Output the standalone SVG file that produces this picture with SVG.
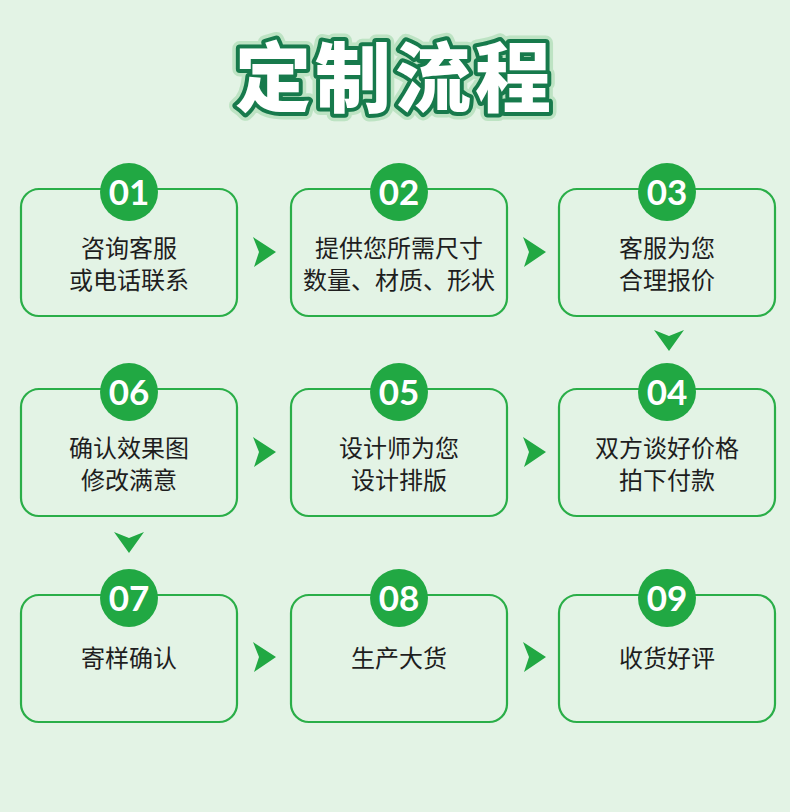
<svg xmlns="http://www.w3.org/2000/svg" width="790" height="812" viewBox="0 0 790 812">
<style>
.box{fill:none;stroke:#2aae48;stroke-width:2.2}
.circ{fill:#21a843}
.num{font-family:Lato,"Open Sans",sans-serif;font-weight:700;font-size:35px;fill:#fff;text-anchor:middle}
.lbl{font-family:"Noto Sans CJK SC","Noto Sans",sans-serif;font-size:24px;fill:#1e1e1e;text-anchor:middle}
.arr{fill:#21a843}
.title{font-family:"Noto Sans CJK SC",sans-serif;font-weight:900;font-size:76px;text-anchor:middle;letter-spacing:4px}
</style>
<defs>
<polygon id="ar" points="-11,-15 12,0 -10,15 -5,0"/>
<polygon id="ad" points="-15,-11 0,10 15,-11 0,-5"/>
</defs>
<rect width="790" height="812" fill="#e3f3e5"/>
<g id="title">
<text class="title" x="395" y="106" fill="none" stroke="#bde3c3" stroke-width="15" stroke-linejoin="round">定制流程</text>
<text class="title" x="395" y="106" fill="#fff" stroke="#177a4c" stroke-width="8" stroke-linejoin="round" paint-order="stroke">定制流程</text>
</g>
<g id="connectors">
<use href="#ar" x="264" y="252" class="arr"/>
<use href="#ar" x="534" y="252" class="arr"/>
<use href="#ad" x="669" y="341" class="arr"/>
<use href="#ar" x="264" y="452" class="arr"/>
<use href="#ar" x="534" y="452" class="arr"/>
<use href="#ad" x="129" y="543" class="arr"/>
<use href="#ar" x="264" y="657" class="arr"/>
<use href="#ar" x="534" y="657" class="arr"/>
</g>
<g id="n01"><rect class="box" x="21" y="189" width="216" height="127" rx="18"/><circle class="circ" cx="129" cy="192" r="29"/><text class="num" x="129" y="205">01</text><text class="lbl" x="129" y="257">咨询客服</text><text class="lbl" x="129" y="289">或电话联系</text></g>
<g id="n02"><rect class="box" x="291" y="189" width="216" height="127" rx="18"/><circle class="circ" cx="399" cy="192" r="29"/><text class="num" x="399" y="205">02</text><text class="lbl" x="399" y="257">提供您所需尺寸</text><text class="lbl" x="399" y="289">数量、材质、形状</text></g>
<g id="n03"><rect class="box" x="559" y="189" width="216" height="127" rx="18"/><circle class="circ" cx="667" cy="192" r="29"/><text class="num" x="667" y="205">03</text><text class="lbl" x="667" y="257">客服为您</text><text class="lbl" x="667" y="289">合理报价</text></g>
<g id="n06"><rect class="box" x="21" y="389" width="216" height="127" rx="18"/><circle class="circ" cx="129" cy="392" r="29"/><text class="num" x="129" y="405">06</text><text class="lbl" x="129" y="457">确认效果图</text><text class="lbl" x="129" y="489">修改满意</text></g>
<g id="n05"><rect class="box" x="291" y="389" width="216" height="127" rx="18"/><circle class="circ" cx="399" cy="392" r="29"/><text class="num" x="399" y="405">05</text><text class="lbl" x="399" y="457">设计师为您</text><text class="lbl" x="399" y="489">设计排版</text></g>
<g id="n04"><rect class="box" x="559" y="389" width="216" height="127" rx="18"/><circle class="circ" cx="667" cy="392" r="29"/><text class="num" x="667" y="405">04</text><text class="lbl" x="667" y="457">双方谈好价格</text><text class="lbl" x="667" y="489">拍下付款</text></g>
<g id="n07"><rect class="box" x="21" y="595" width="216" height="127" rx="18"/><circle class="circ" cx="129" cy="598" r="29"/><text class="num" x="129" y="611">07</text><text class="lbl" x="129" y="667">寄样确认</text></g>
<g id="n08"><rect class="box" x="291" y="595" width="216" height="127" rx="18"/><circle class="circ" cx="399" cy="598" r="29"/><text class="num" x="399" y="611">08</text><text class="lbl" x="399" y="667">生产大货</text></g>
<g id="n09"><rect class="box" x="559" y="595" width="216" height="127" rx="18"/><circle class="circ" cx="667" cy="598" r="29"/><text class="num" x="667" y="611">09</text><text class="lbl" x="667" y="667">收货好评</text></g>
</svg>
